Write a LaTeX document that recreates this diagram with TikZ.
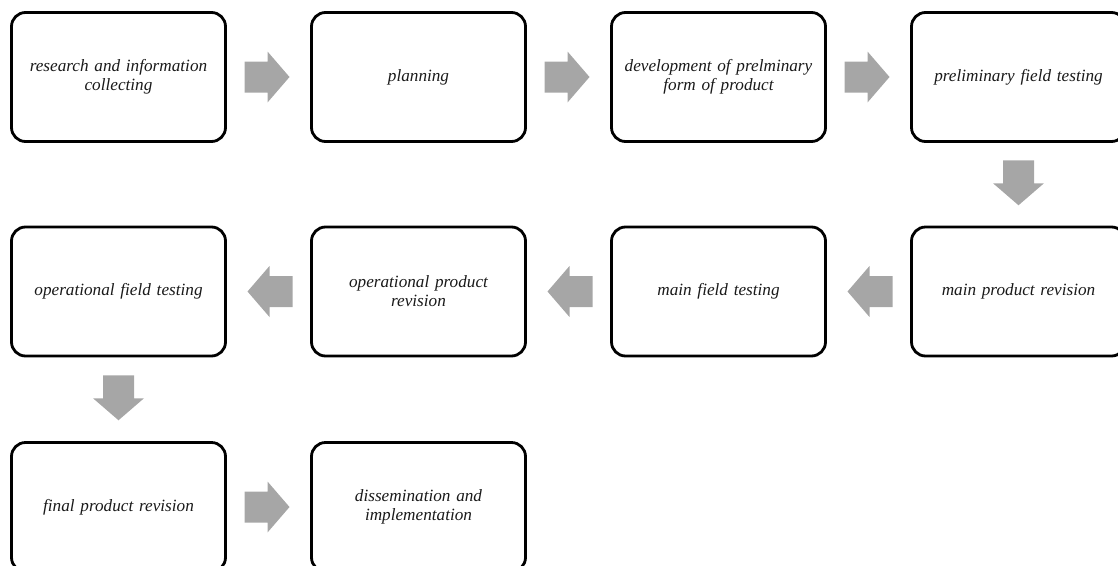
\documentclass[tikz,border=0pt]{standalone}
\usepackage{fontspec}
\setmainfont{Liberation Serif}
\usetikzlibrary{calc}
\definecolor{arrowgray}{HTML}{A6A6A6}
\definecolor{labelink}{HTML}{1A1A1A}
\tikzset{
  stagebox/.style={draw=black, line width=2.8pt, rounded corners=14pt, fill=white,
    minimum width=214pt, minimum height=129pt, align=center, text width=195pt,
    inner sep=0pt, text=labelink, font=\fontsize{17.2}{18.8}\selectfont\itshape},
  pics/blockarrow/.style={code={
    \fill[arrowgray] (-22.5,-15.5) -- (0.5,-15.5) -- (0.5,-25.5) -- (22.5,0)
      -- (0.5,25.5) -- (0.5,15.5) -- (-22.5,15.5) -- cycle;}}
}
\begin{document}
\begin{tikzpicture}[x=1pt,y=-1pt]
\useasboundingbox (0,0) rectangle (1118,565);
% row 1, left to right
\node[stagebox] (s1) at (118.5,77) {research and information\\collecting};
\node[stagebox] (s2) at (418.5,77) {planning};
\node[stagebox] (s3) at (718.5,77) {development of prelminary\\form of product};
\node[stagebox] (s4) at (1018.5,77) {preliminary field testing};
% row 2, right to left
\node[stagebox] (s5) at (1018.5,291.5) {main product revision};
\node[stagebox] (s6) at (718.5,291.5) {main field testing};
\node[stagebox] (s7) at (418.5,291.5) {operational product\\revision};
\node[stagebox] (s8) at (118.5,291.5) {operational field testing};
% row 3
\node[stagebox] (s9) at (118.5,507) {final product revision};
\node[stagebox] (s10) at (418.5,507) {dissemination and\\implementation};
% block arrows between consecutive stages
\path ($(s1.east)!0.5!(s2.west)$) +(-1.5,0) pic {blockarrow};
\path ($(s2.east)!0.5!(s3.west)$) +(-1.5,0) pic {blockarrow};
\path ($(s3.east)!0.5!(s4.west)$) +(-1.5,0) pic {blockarrow};
\path ($(s4.south)!0.5!(s5.north)$) +(0,-1.5) pic[rotate=-90] {blockarrow};
\path ($(s5.west)!0.5!(s6.east)$) +(1.5,0) pic[rotate=180] {blockarrow};
\path ($(s6.west)!0.5!(s7.east)$) +(1.5,0) pic[rotate=180] {blockarrow};
\path ($(s7.west)!0.5!(s8.east)$) +(1.5,0) pic[rotate=180] {blockarrow};
\path ($(s8.south)!0.5!(s9.north)$) +(0,-1.5) pic[rotate=-90] {blockarrow};
\path ($(s9.east)!0.5!(s10.west)$) +(-1.5,0) pic {blockarrow};
\end{tikzpicture}
\end{document}
